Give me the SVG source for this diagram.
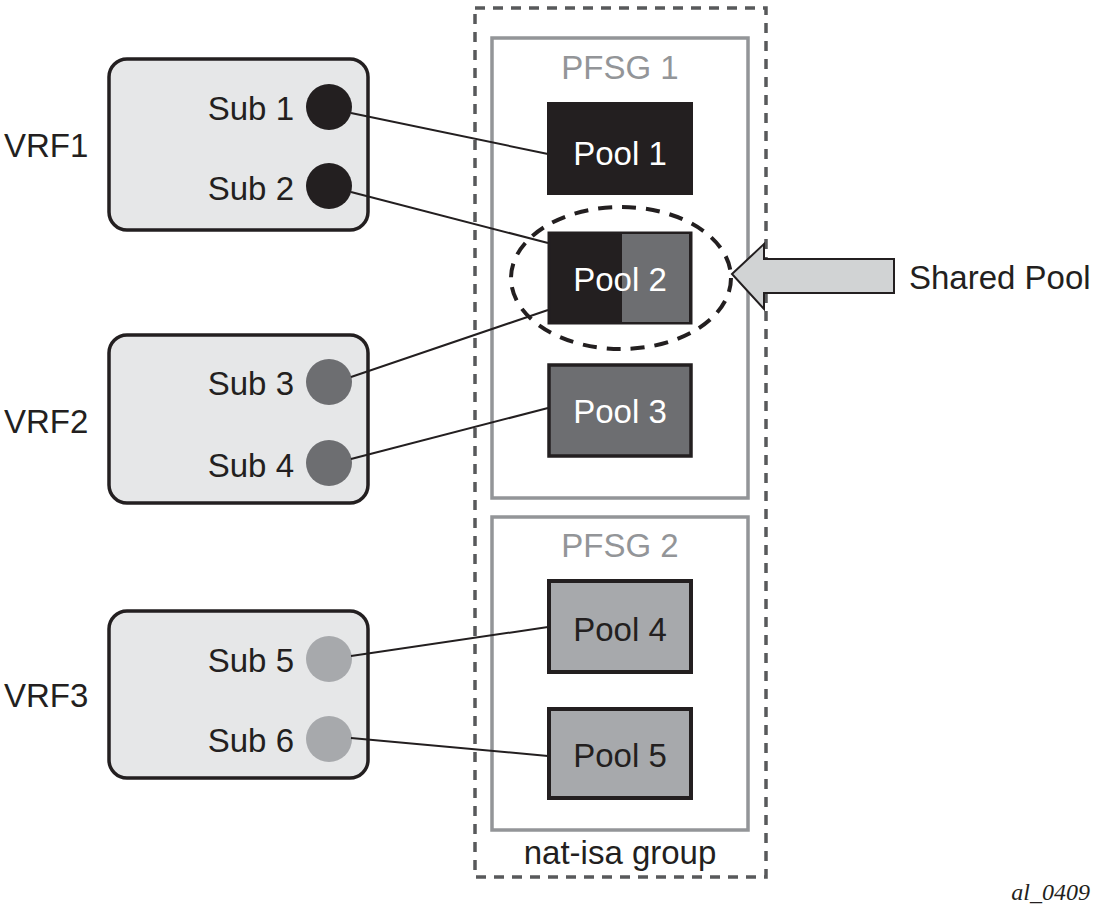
<svg xmlns="http://www.w3.org/2000/svg" width="1097" height="919" viewBox="0 0 1097 919">
<defs>
<style>
text{font-family:"Liberation Sans",Arial,sans-serif;font-size:33px;fill:#231f20}
.vrf{fill:#e6e7e8;stroke:#231f20;stroke-width:3.5}
.pfsg{fill:none;stroke:#939598;stroke-width:3.5}
.gl{fill:#939598;text-anchor:middle}
.pool{text-anchor:middle}
.w{fill:#fff}
.sub{text-anchor:end}
.conn line{stroke:#231f20;stroke-width:2}
.d1{fill:#231f20}.d2{fill:#6d6e71}.d3{fill:#a7a9ac}
</style>
</defs>
<rect width="1097" height="919" fill="#fff"/>
<g id="nat-isa-group">
<rect x="475" y="8" width="291" height="869" fill="none" stroke="#58595b" stroke-width="3.5" stroke-dasharray="10 8"/>
<text x="620" y="864" class="pool">nat-isa group</text>
</g>
<g id="pfsg1">
<rect x="492" y="38" width="256" height="460" class="pfsg"/>
<text x="620" y="79" class="gl">PFSG 1</text>
</g>
<g id="pfsg2">
<rect x="492" y="517" width="256" height="313" class="pfsg"/>
<text x="620" y="557" class="gl">PFSG 2</text>
</g>
<g id="vrf1">
<rect x="109" y="59" width="259" height="171" rx="18" class="vrf"/>
<text x="4" y="157">VRF1</text>
<circle cx="329" cy="107" r="23" class="d1"/>
<text x="294" y="120" class="sub">Sub 1</text>
<circle cx="329" cy="186" r="23" class="d1"/>
<text x="294" y="200" class="sub">Sub 2</text>
</g>
<g id="vrf2">
<rect x="109" y="335" width="259" height="168" rx="18" class="vrf"/>
<text x="4" y="433">VRF2</text>
<circle cx="329" cy="382" r="23" class="d2"/>
<text x="294" y="395" class="sub">Sub 3</text>
<circle cx="329" cy="463" r="23" class="d2"/>
<text x="294" y="477" class="sub">Sub 4</text>
</g>
<g id="vrf3">
<rect x="109" y="611" width="259" height="167" rx="18" class="vrf"/>
<text x="4" y="707">VRF3</text>
<circle cx="329" cy="659" r="23" class="d3"/>
<text x="294" y="672" class="sub">Sub 5</text>
<circle cx="329" cy="739" r="23" class="d3"/>
<text x="294" y="752" class="sub">Sub 6</text>
</g>
<g id="pool1">
<rect x="547" y="102" width="146" height="93" class="d1"/>
<text x="620" y="165" class="pool w">Pool 1</text>
</g>
<g id="pool2">
<rect x="549" y="233" width="142" height="90" fill="#231f20" stroke="#231f20" stroke-width="3"/>
<rect x="622" y="234" width="67" height="88" class="d2"/>
<text x="620" y="291" class="pool w">Pool 2</text>
</g>
<g id="pool3">
<rect x="549" y="365" width="142" height="91" fill="#6d6e71" stroke="#231f20" stroke-width="3.5"/>
<text x="620" y="423" class="pool w">Pool 3</text>
</g>
<g id="pool4">
<rect x="549" y="581" width="142" height="91" fill="#a7a9ac" stroke="#231f20" stroke-width="4"/>
<text x="620" y="641" class="pool">Pool 4</text>
</g>
<g id="pool5">
<rect x="549" y="709" width="142" height="89" fill="#a7a9ac" stroke="#231f20" stroke-width="4"/>
<text x="620" y="767" class="pool">Pool 5</text>
</g>
<g id="shared-pool">
<ellipse cx="621" cy="278" rx="110" ry="71" fill="none" stroke="#231f20" stroke-width="4" stroke-dasharray="14 10"/>
<polygon points="732,274 764,244 764,259 894,259 894,293 764,293 764,309" fill="#d1d3d4" stroke="#231f20" stroke-width="2"/>
<text x="909" y="289">Shared Pool</text>
</g>
<g id="connectors" class="conn">
<line x1="351" y1="113" x2="548" y2="154"/>
<line x1="351" y1="192" x2="548" y2="243"/>
<line x1="351" y1="377" x2="548" y2="310"/>
<line x1="351" y1="459" x2="548" y2="408"/>
<line x1="351" y1="656" x2="548" y2="627"/>
<line x1="351" y1="738" x2="548" y2="756"/>
</g>
<text x="1090" y="900" text-anchor="end" style="font-family:'Liberation Serif','Times New Roman',serif;font-style:italic;font-size:24px">al_0409</text>
</svg>
